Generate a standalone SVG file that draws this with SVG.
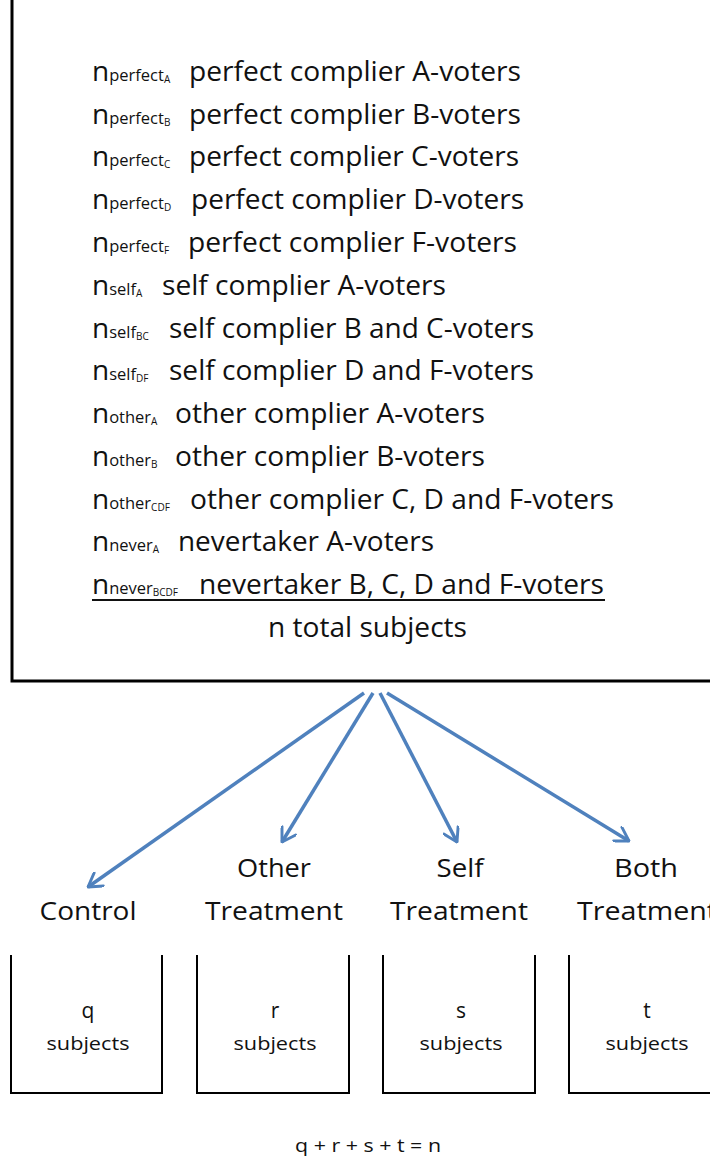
<svg xmlns="http://www.w3.org/2000/svg" width="710" height="1156" viewBox="0 0 710 1156">
<style>
.t{font-family:"Open Sans","Noto Sans",sans-serif;fill:#111}
.n{font-size:28px}
.sw{font-size:16.5px}
.sl{font-size:10px}
.d{font-family:"Open Sans","Noto Sans",sans-serif;fill:#111;font-size:27px}
.lab{font-family:"Open Sans","Noto Sans",sans-serif;font-size:26px;fill:#111;text-anchor:middle}
.sm{font-family:"Open Sans","Noto Sans",sans-serif;font-size:19px;fill:#111;text-anchor:middle}
.big{font-size:21px}
.box{fill:none;stroke:#000;stroke-width:2}
.arr{stroke:#4F81BD;stroke-width:3.5;fill:none;marker-end:url(#ah)}
</style>
<defs>
<marker id="ah" viewBox="0 0 12 12" refX="11" refY="6" markerWidth="5" markerHeight="5" orient="auto" markerUnits="strokeWidth">
<path d="M2,0.5 L11,6 L2,11.5" fill="none" stroke="#4F81BD" stroke-width="2" stroke-linecap="round" stroke-linejoin="round"/>
</marker>
</defs>
<rect width="710" height="1156" fill="#fff"/>
<g id="population">
<path d="M12,0 V681 H712" fill="none" stroke="#000" stroke-width="3"/>
<text class="t" y="81"><tspan class="n" x="92">n</tspan><tspan class="sw">perfect</tspan><tspan class="sl" dy="2">A</tspan></text>
<text class="d" x="189" y="81" textLength="332" lengthAdjust="spacingAndGlyphs">perfect complier A-voters</text>
<text class="t" y="124"><tspan class="n" x="92">n</tspan><tspan class="sw">perfect</tspan><tspan class="sl" dy="2">B</tspan></text>
<text class="d" x="189" y="124" textLength="332" lengthAdjust="spacingAndGlyphs">perfect complier B-voters</text>
<text class="t" y="166"><tspan class="n" x="92">n</tspan><tspan class="sw">perfect</tspan><tspan class="sl" dy="2">C</tspan></text>
<text class="d" x="189" y="166" textLength="330" lengthAdjust="spacingAndGlyphs">perfect complier C-voters</text>
<text class="t" y="209"><tspan class="n" x="92">n</tspan><tspan class="sw">perfect</tspan><tspan class="sl" dy="2">D</tspan></text>
<text class="d" x="191" y="209" textLength="333" lengthAdjust="spacingAndGlyphs">perfect complier D-voters</text>
<text class="t" y="252"><tspan class="n" x="92">n</tspan><tspan class="sw">perfect</tspan><tspan class="sl" dy="2">F</tspan></text>
<text class="d" x="188" y="252" textLength="329" lengthAdjust="spacingAndGlyphs">perfect complier F-voters</text>
<text class="t" y="295"><tspan class="n" x="92">n</tspan><tspan class="sw">self</tspan><tspan class="sl" dy="2">A</tspan></text>
<text class="d" x="162" y="295" textLength="284" lengthAdjust="spacingAndGlyphs">self complier A-voters</text>
<text class="t" y="338"><tspan class="n" x="92">n</tspan><tspan class="sw">self</tspan><tspan class="sl" dy="2">BC</tspan></text>
<text class="d" x="169" y="338" textLength="365" lengthAdjust="spacingAndGlyphs">self complier B and C-voters</text>
<text class="t" y="380"><tspan class="n" x="92">n</tspan><tspan class="sw">self</tspan><tspan class="sl" dy="2">DF</tspan></text>
<text class="d" x="169" y="380" textLength="365" lengthAdjust="spacingAndGlyphs">self complier D and F-voters</text>
<text class="t" y="423"><tspan class="n" x="92">n</tspan><tspan class="sw">other</tspan><tspan class="sl" dy="2">A</tspan></text>
<text class="d" x="175" y="423" textLength="310" lengthAdjust="spacingAndGlyphs">other complier A-voters</text>
<text class="t" y="466"><tspan class="n" x="92">n</tspan><tspan class="sw">other</tspan><tspan class="sl" dy="2">B</tspan></text>
<text class="d" x="175" y="466" textLength="310" lengthAdjust="spacingAndGlyphs">other complier B-voters</text>
<text class="t" y="509"><tspan class="n" x="92">n</tspan><tspan class="sw">other</tspan><tspan class="sl" dy="2">CDF</tspan></text>
<text class="d" x="190" y="509" textLength="424" lengthAdjust="spacingAndGlyphs">other complier C, D and F-voters</text>
<text class="t" y="551"><tspan class="n" x="92">n</tspan><tspan class="sw">never</tspan><tspan class="sl" dy="2">A</tspan></text>
<text class="d" x="178" y="551" textLength="256" lengthAdjust="spacingAndGlyphs">nevertaker A-voters</text>
<text class="t" y="594"><tspan class="n" x="92">n</tspan><tspan class="sw">never</tspan><tspan class="sl" dy="2">BCDF</tspan></text>
<text class="d" x="199" y="594" textLength="405" lengthAdjust="spacingAndGlyphs">nevertaker B, C, D and F-voters</text>
<line x1="92" y1="600" x2="605" y2="600" stroke="#111" stroke-width="2"/>
<text class="d" x="268" y="637" textLength="199" lengthAdjust="spacingAndGlyphs">n total subjects</text>
</g>
<g id="connectors">
<line class="arr" x1="364" y1="693" x2="88" y2="887"/>
<line class="arr" x1="373" y1="693" x2="282" y2="842"/>
<line class="arr" x1="380" y1="693" x2="457" y2="842"/>
<line class="arr" x1="387" y1="693" x2="629" y2="841"/>
</g>
<g id="control">
<text class="lab" x="88" y="920" textLength="97" lengthAdjust="spacingAndGlyphs">Control</text>
<path class="box" d="M11,955 V1093 H162 V955"/>
<text class="sm big" x="88" y="1018">q</text>
<text class="sm" x="88" y="1050" textLength="83" lengthAdjust="spacingAndGlyphs">subjects</text>
</g>
<g id="other">
<text class="lab" x="274" y="877" textLength="74" lengthAdjust="spacingAndGlyphs">Other</text>
<text class="lab" x="274" y="920" textLength="138" lengthAdjust="spacingAndGlyphs">Treatment</text>
<path class="box" d="M197,955 V1093 H349 V955"/>
<text class="sm big" x="275" y="1018">r</text>
<text class="sm" x="275" y="1050" textLength="83" lengthAdjust="spacingAndGlyphs">subjects</text>
</g>
<g id="self">
<text class="lab" x="460" y="877" textLength="47" lengthAdjust="spacingAndGlyphs">Self</text>
<text class="lab" x="459" y="920" textLength="138" lengthAdjust="spacingAndGlyphs">Treatment</text>
<path class="box" d="M383,955 V1093 H535 V955"/>
<text class="sm big" x="461" y="1018">s</text>
<text class="sm" x="461" y="1050" textLength="83" lengthAdjust="spacingAndGlyphs">subjects</text>
</g>
<g id="both">
<text class="lab" x="646" y="877" textLength="64" lengthAdjust="spacingAndGlyphs">Both</text>
<text class="lab" x="647" y="920" textLength="140" lengthAdjust="spacingAndGlyphs">Treatment</text>
<path class="box" d="M569,955 V1093 H712"/>
<text class="sm big" x="647" y="1018">t</text>
<text class="sm" x="647" y="1050" textLength="83" lengthAdjust="spacingAndGlyphs">subjects</text>
</g>
<text class="sm" x="368" y="1152" textLength="146" lengthAdjust="spacingAndGlyphs">q + r + s + t = n</text>
</svg>
